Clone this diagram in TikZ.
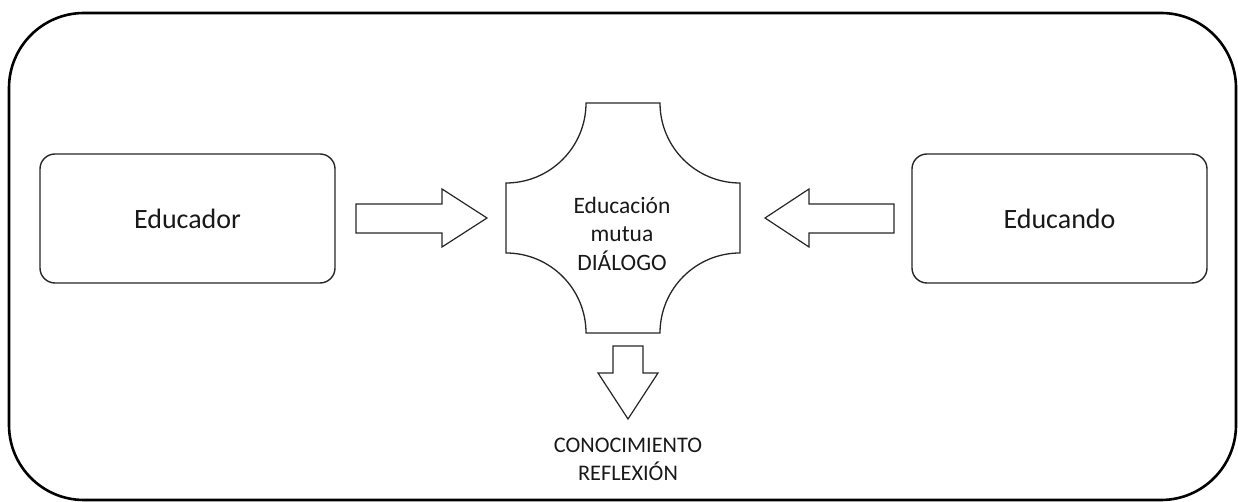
\documentclass[tikz,border=0pt]{standalone}
\usepackage{fontspec}
\setmainfont{Carlito}
\begin{document}
\begin{tikzpicture}[x=1pt,y=1pt,
  frame/.style={line width=2.6pt, draw=black},
  sidebox/.style={draw=black!85, line width=1.4pt, rounded corners=15pt, minimum width=295pt, minimum height=129pt, inner sep=0pt, font=\fontsize{28}{33}\selectfont, text=black!90},
  shapeline/.style={draw=black!85, line width=1.3pt, line join=miter},
  arrowline/.style={draw=black!85, line width=1.2pt, line join=miter},
  lbl/.style={inner sep=0pt, align=center, text=black!90, font=\fontsize{23.5}{28.5}\selectfont},
  lblb/.style={inner sep=0pt, align=center, text=black!90, font=\fontsize{22.3}{28}\selectfont}]
\useasboundingbox (0,0) rectangle (1238,502);
% outer frame
\draw[frame, rounded corners=75pt] (9,2) rectangle (1236,489);
% side boxes
\node[sidebox] (educador) at (187.5,283.5) {Educador};
\node[sidebox] (educando) at (1059.5,283.5) {Educando};
% plaque shape
\draw[shapeline] (586,399) -- (660,399)
  arc[start angle=180,end angle=270,radius=80pt] -- (740,249)
  arc[start angle=90,end angle=180,radius=80pt] -- (586,169)
  arc[start angle=0,end angle=90,radius=80pt] -- (506,319)
  arc[start angle=270,end angle=360,radius=80pt] -- cycle;
\node[lbl] (centro) at (622,268.5) {Educación\\mutua\\DIÁLOGO};
% right-pointing arrow
\draw[arrowline] (356,298) -- (442,298) -- (442,313) -- (487,284) -- (442,255) -- (442,269) -- (356,269) -- cycle;
% left-pointing arrow
\draw[arrowline] (894,298) -- (809,298) -- (809,313) -- (765,284) -- (809,255) -- (809,269) -- (894,269) -- cycle;
% down arrow
\draw[arrowline] (613,156) -- (643,156) -- (643,129) -- (658,129) -- (628,83) -- (598,129) -- (613,129) -- cycle;
\node[lblb] (resultado) at (628,43) {CONOCIMIENTO\\REFLEXIÓN};
\end{tikzpicture}
\end{document}
